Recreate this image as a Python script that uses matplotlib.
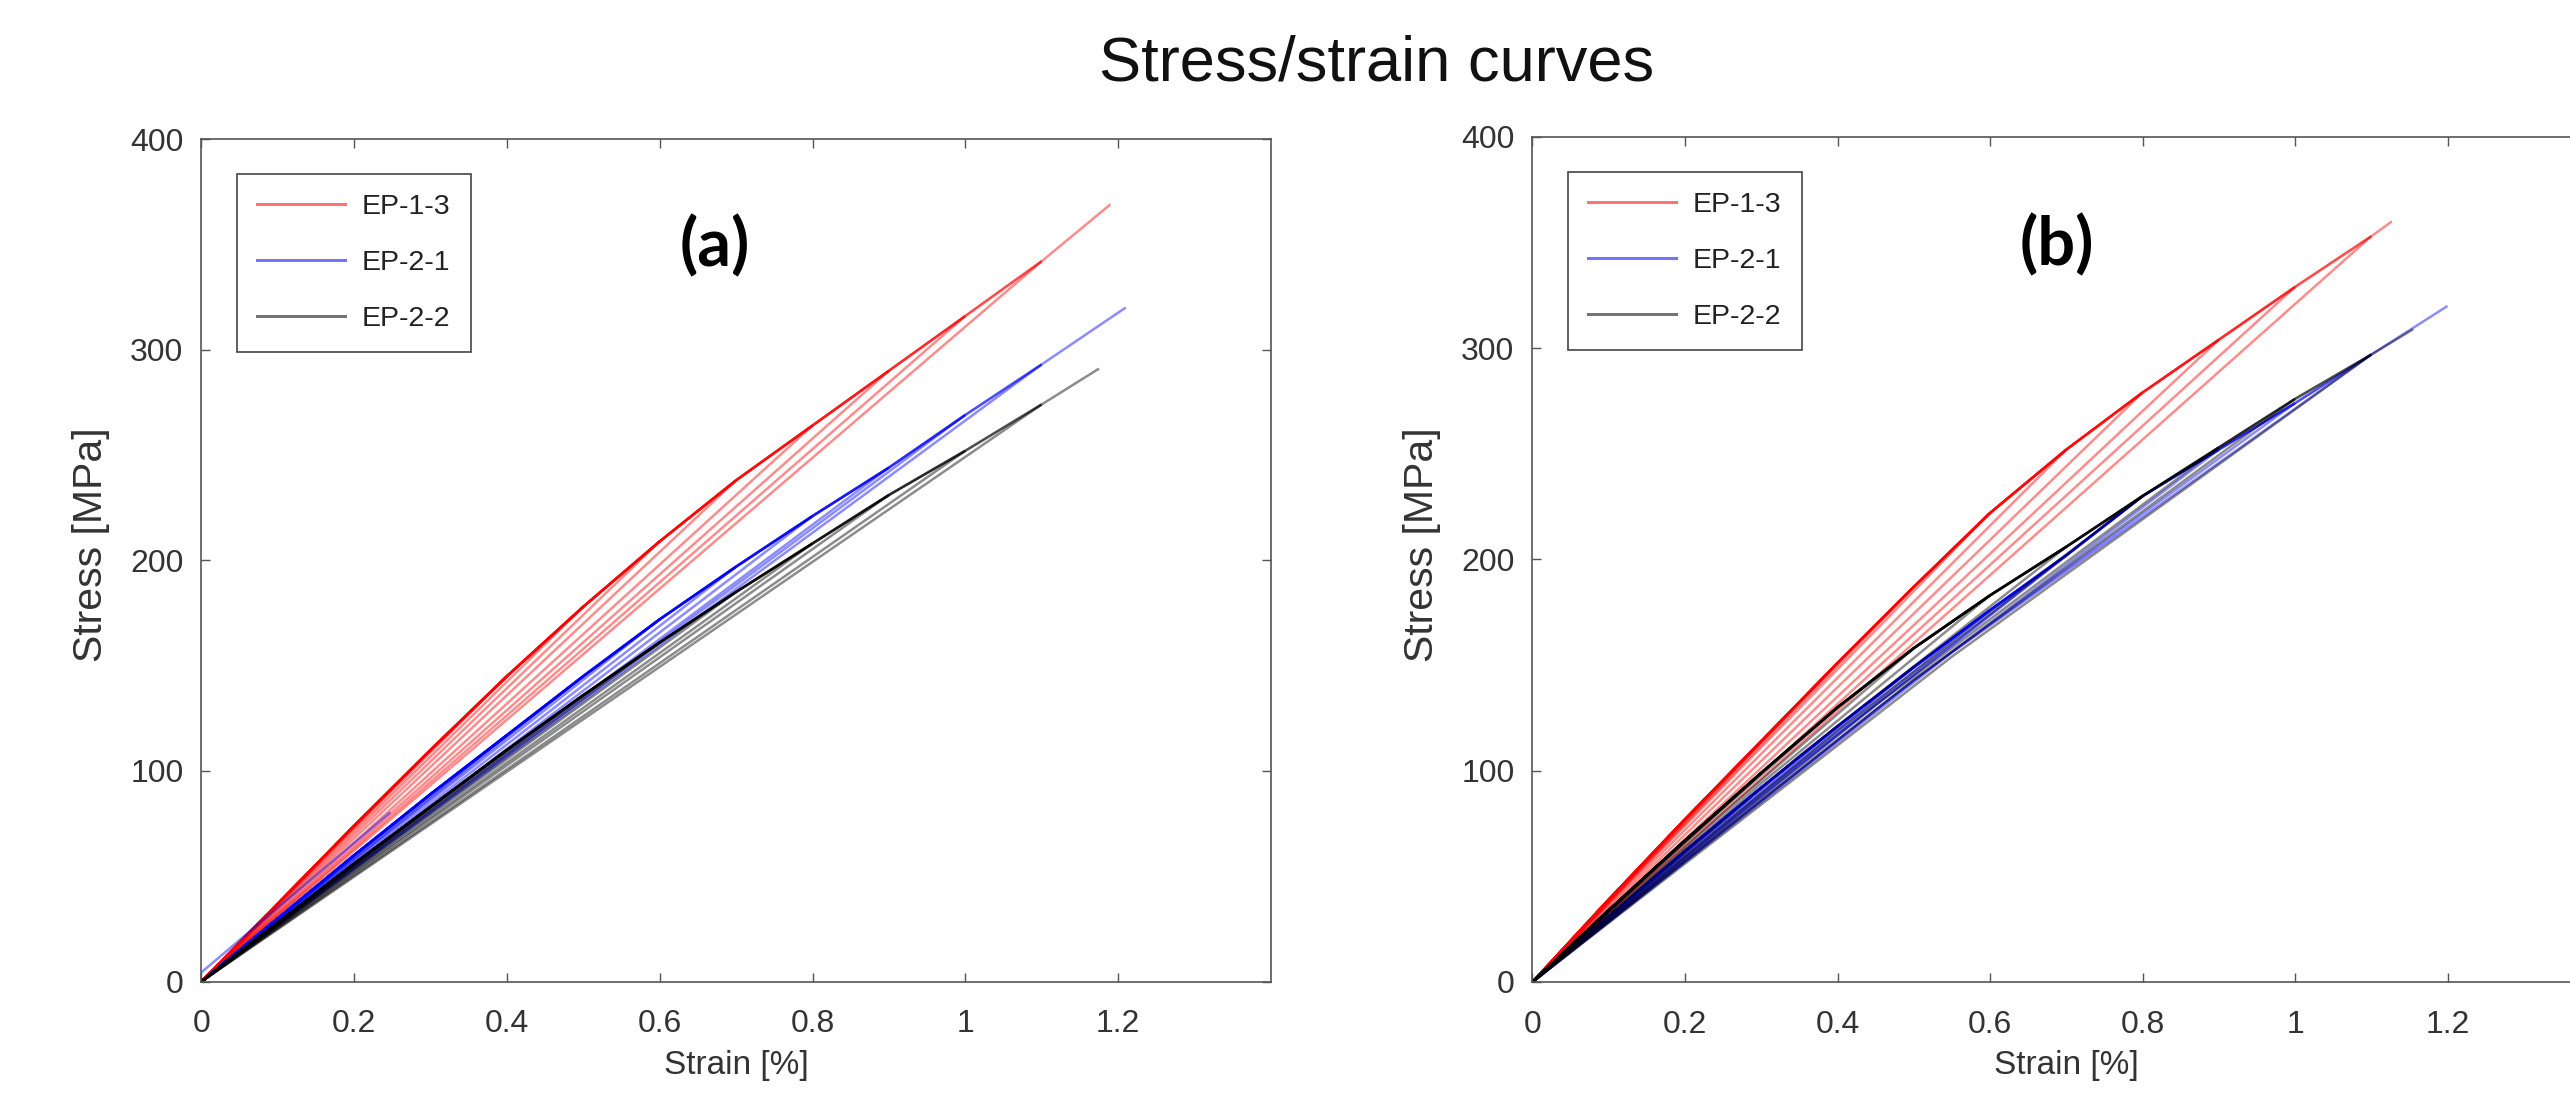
import matplotlib
matplotlib.use("Agg")
import matplotlib.pyplot as plt
from matplotlib.lines import Line2D

plt.rcParams['font.family'] = ['Liberation Sans', 'DejaVu Sans']

# ---- values: strain [%], stress [MPa] ----
# loading envelope of each specimen; inner points are the cycle peaks
# (unloaded back to the origin), the last point is the final load.
RED_A_STRAIN = [0, 0.1, 0.2, 0.3, 0.4, 0.5, 0.6, 0.7, 0.8, 0.9, 1.0, 1.1, 1.19]
RED_A_STRESS = [0, 37, 74, 110, 145, 178, 209, 238, 264, 290, 316, 342, 369]
BLUE_A_STRAIN = [0, 0.1, 0.2, 0.3, 0.4, 0.5, 0.6, 0.7, 0.8, 0.9, 1.0, 1.1, 1.21]
BLUE_A_STRESS = [0, 30, 60, 89, 117, 145, 172, 197, 221, 244, 269, 293, 320]
BLACK_A_STRAIN = [0, 0.1, 0.2, 0.3, 0.4, 0.5, 0.6, 0.7, 0.8, 0.9, 1.0, 1.1, 1.175]
BLACK_A_STRESS = [0, 28, 56, 83, 110, 136, 161, 185, 208, 231, 252, 274, 291]
# short pre-load run of EP-2-1 in (a)
BLUE_A_PRE_STRAIN = [0, 0.246]
BLUE_A_PRE_STRESS = [4.4, 80]

RED_B_STRAIN = [0, 0.1, 0.2, 0.3, 0.4, 0.5, 0.6, 0.7, 0.8, 0.9, 1.0, 1.1, 1.127]
RED_B_STRESS = [0, 39, 77, 114, 151, 187, 222, 252, 279, 304, 329, 353, 360]
BLUE_B_STRAIN = [0, 0.1, 0.2, 0.3, 0.4, 0.5, 0.6, 0.7, 0.8, 0.9, 1.0, 1.1, 1.2]
BLUE_B_STRESS = [0, 31, 62, 92, 121, 149, 176, 202, 230, 252, 274, 297, 320]
BLACK_B_STRAIN = [0, 0.1, 0.2, 0.3, 0.4, 0.5, 0.6, 0.7, 0.8, 0.9, 1.0, 1.1, 1.155]
BLACK_B_STRESS = [0, 34, 67, 99, 130, 158, 183, 206, 230, 253, 276, 297, 309]
# unloading stress at half the peak strain, for the cycles of (b) EP-2-1 / EP-2-2
BLUE_B_UNLOAD_MID = [15.5, 31, 46, 61, 75, 89, 103, 117, 129, 143, 156]
BLACK_B_UNLOAD_MID = [17, 33.5, 50, 66, 80, 94, 107, 119, 131, 143, 154]

SPECIMENS = ["EP-1-3", "EP-2-1", "EP-2-2"]
COLORS = ["#ff0000", "#0000ff", "#000000"]
XTICKS = [0, 0.2, 0.4, 0.6, 0.8, 1.0, 1.2]
XTICK_LABELS = ["0", "0.2", "0.4", "0.6", "0.8", "1", "1.2"]
YTICKS = [0, 100, 200, 300, 400]

ALPHA = 0.45
LW = 1.8
AXC = "#555555"
TXC = "#333333"


def draw_specimen(ax, strain, stress, color, unload_mid=None):
    n = len(strain)
    for k in range(1, n):
        ax.plot(strain[:k + 1], stress[:k + 1], color=color, alpha=ALPHA, lw=LW,
                solid_capstyle="butt")
        if k == n - 1:
            continue
        # unloading of cycle k back to the origin
        if unload_mid is None:
            xs, ys = [strain[k], strain[0]], [stress[k], stress[0]]
        else:
            xs = [strain[k], strain[k] / 2, strain[0]]
            ys = [stress[k], unload_mid[k - 1], stress[0]]
        ax.plot(xs, ys, color=color, alpha=ALPHA, lw=LW, solid_capstyle="butt")


def style_axes(ax):
    ax.set_xlim(0, 1.4)
    ax.set_ylim(0, 400)
    ax.set_xticks(XTICKS)
    ax.set_xticklabels(XTICK_LABELS)
    ax.set_yticks(YTICKS)
    ax.tick_params(direction="in", length=6.5, width=1.0, top=True, right=True,
                   color=AXC, labelsize=23, labelcolor=TXC)
    ax.tick_params(axis="x", pad=20)
    ax.tick_params(axis="y", pad=13)
    for s in ax.spines.values():
        s.set_color(AXC); s.set_linewidth(1.2)
    ax.set_xlabel("Strain [%]", fontsize=24, color=TXC)
    ax.set_ylabel("Stress [MPa]", fontsize=29.5, color=TXC)
    ax.xaxis.set_label_coords(0.5, -0.081)
    ax.yaxis.set_label_coords(-0.0856, 0.518)
    handles = [Line2D([0], [0], color=c, alpha=ALPHA + 0.1, lw=LW * 1.2) for c in COLORS]
    leg = ax.legend(handles, SPECIMENS, loc="upper left", bbox_to_anchor=(0.033, 0.958),
                    borderaxespad=0, fontsize=20.5, handlelength=3.1, handletextpad=0.6,
                    labelspacing=1.05, borderpad=0.7, fancybox=False, edgecolor="#444444",
                    framealpha=1)
    leg.get_frame().set_linewidth(1.2)
    for t in leg.get_texts():
        t.set_color("#222222")


fig = plt.figure(figsize=(25.70, 10.94), dpi=100)
fig.patch.set_facecolor("white")
ax_a = fig.add_axes([0.0784, 0.1028, 0.4161, 0.7701])
ax_b = fig.add_axes([0.5963, 0.1024, 0.4154, 0.7724])

draw_specimen(ax_a, RED_A_STRAIN, RED_A_STRESS, COLORS[0])
draw_specimen(ax_a, BLUE_A_STRAIN, BLUE_A_STRESS, COLORS[1])
ax_a.plot(BLUE_A_PRE_STRAIN, BLUE_A_PRE_STRESS, color=COLORS[1], alpha=ALPHA, lw=LW)
draw_specimen(ax_a, BLACK_A_STRAIN, BLACK_A_STRESS, COLORS[2])

draw_specimen(ax_b, RED_B_STRAIN, RED_B_STRESS, COLORS[0])
draw_specimen(ax_b, BLUE_B_STRAIN, BLUE_B_STRESS, COLORS[1], BLUE_B_UNLOAD_MID)
draw_specimen(ax_b, BLACK_B_STRAIN, BLACK_B_STRESS, COLORS[2], BLACK_B_UNLOAD_MID)

style_axes(ax_a)
style_axes(ax_b)

fig.text(0.5356, 0.9262, "Stress/strain curves", ha="center", va="baseline",
         fontsize=45.5, color="#111111")
fig.text(0.2782, 0.7747, "(a)", ha="center", va="center", fontsize=48,
         fontweight="bold", family=["Lato", "DejaVu Sans"])
fig.text(0.8004, 0.7756, "(b)", ha="center", va="center", fontsize=48,
         fontweight="bold", family=["Lato", "DejaVu Sans"])

fig.savefig("out.png", dpi=100, facecolor="white")
